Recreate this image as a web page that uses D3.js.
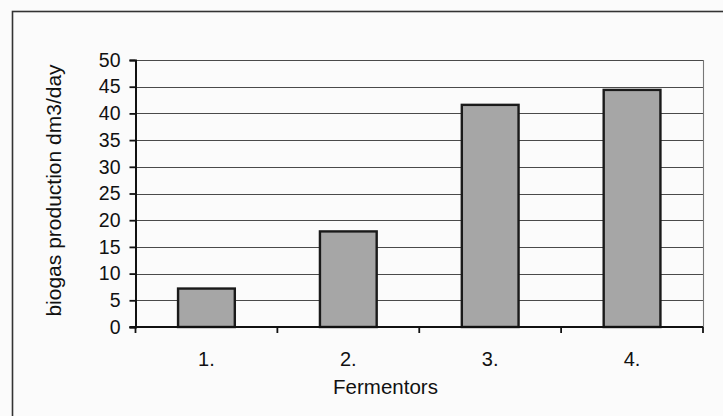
<!DOCTYPE html>
<html><head><meta charset="utf-8">
<script src="https://cdn.jsdelivr.net/npm/d3@7/dist/d3.min.js"></script>
<style>
html,body{margin:0;padding:0;background:#fbfbfb;}
svg{display:block;font-family:Arial,"Liberation Sans",sans-serif;}
</style></head>
<body>
<script>
const categories = ["1.", "2.", "3.", "4."];
const values = [7.2, 17.9, 41.6, 44.4];
const yTicks = [0, 5, 10, 15, 20, 25, 30, 35, 40, 45, 50];
const yLabel = "biogas production dm3/day";
const xLabel = "Fermentors";

const W = 723, H = 416;
const svg = d3.select("body").append("svg").attr("width", W).attr("height", H);

const mLeft = 135.5, mRight = 703, mTop = 60, mBottom = 327;

svg.append("rect").attr("x", 12.5).attr("y", 11.5).attr("width", 730).attr("height", 430)
  .attr("fill", "none").attr("stroke", "#333").attr("stroke-width", 1.6);

const x = d3.scaleBand().domain(categories).range([mLeft, mRight]).paddingInner(0.6).paddingOuter(0.3);
const y = d3.scaleLinear().domain([0, 50]).range([mBottom, mTop]);

// gridlines
svg.append("g").selectAll("line").data(yTicks.filter(d => d > 0)).join("line")
  .attr("x1", mLeft).attr("x2", mRight)
  .attr("y1", d => Math.round(y(d)) + 0.5).attr("y2", d => Math.round(y(d)) + 0.5)
  .attr("stroke", "#4a4a4a").attr("stroke-width", 1.1);
// plot right border
svg.append("line").attr("x1", mRight + 0.5).attr("x2", mRight + 0.5).attr("y1", mTop).attr("y2", mBottom)
  .attr("stroke", "#777").attr("stroke-width", 1.1);

// bars
svg.append("g").selectAll("rect").data(values).join("rect")
  .attr("x", (d, i) => x(categories[i]))
  .attr("y", d => y(d))
  .attr("width", x.bandwidth())
  .attr("height", d => mBottom - y(d))
  .attr("fill", "#a6a6a6").attr("stroke", "#1a1a1a").attr("stroke-width", 2.4);

// y axis
const yAxis = svg.append("g").attr("transform", `translate(${mLeft},0)`)
  .call(d3.axisLeft(y).tickValues(yTicks).tickSize(6).tickPadding(9));
yAxis.select(".domain").attr("stroke", "#111").attr("stroke-width", 2);
yAxis.selectAll(".tick line").attr("stroke", "#111").attr("stroke-width", 1.8);
yAxis.selectAll("text").attr("font-size", 19.5).attr("fill", "#111")
  .attr("font-family", "Arial, 'Liberation Sans', sans-serif");

// x axis with ticks between categories
const xBoundaries = d3.range(categories.length + 1).map(i => mLeft + i * (mRight - mLeft) / categories.length);
svg.append("line").attr("x1", mLeft - 6).attr("x2", mRight).attr("y1", mBottom).attr("y2", mBottom)
  .attr("stroke", "#111").attr("stroke-width", 2);
svg.append("g").selectAll("line").data(xBoundaries).join("line")
  .attr("x1", d => d).attr("x2", d => d).attr("y1", mBottom).attr("y2", mBottom + 6)
  .attr("stroke", "#111").attr("stroke-width", 1.8);
svg.append("g").selectAll("text").data(categories).join("text")
  .attr("x", d => x(d) + x.bandwidth() / 2).attr("y", 366)
  .attr("text-anchor", "middle").attr("font-size", 20).attr("fill", "#111").text(d => d);

svg.append("text").attr("x", 385.5).attr("y", 394).attr("text-anchor", "middle")
  .attr("font-size", 20.5).attr("fill", "#111").text(xLabel);

svg.append("text").attr("transform", `translate(61,${(mTop + mBottom) / 2 - 3}) rotate(-90)`)
  .attr("text-anchor", "middle").attr("font-size", 21).attr("fill", "#111").text(yLabel);
</script>
</body></html>
